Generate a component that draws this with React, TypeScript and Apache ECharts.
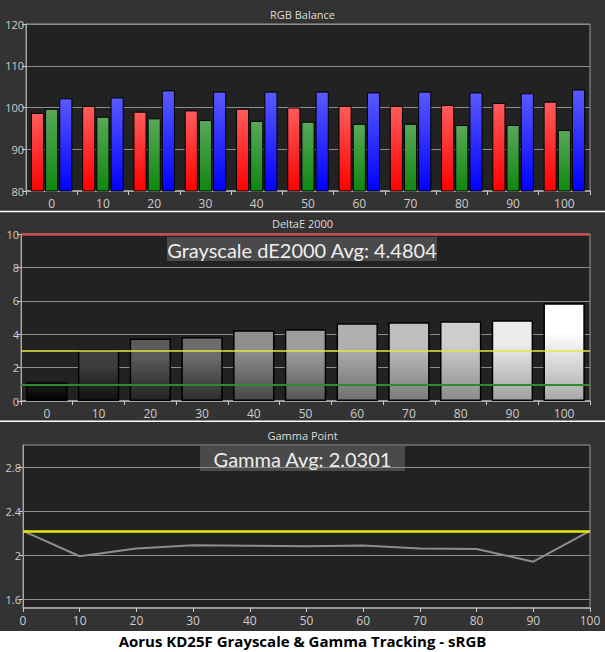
import React, { useEffect, useRef } from "react";
import * as echarts from "echarts";

// ---------- data ----------
const categories = ["0", "10", "20", "30", "40", "50", "60", "70", "80", "90", "100"];
const redValues = [98.7, 100.4, 99.0, 99.3, 99.7, 100.0, 100.4, 100.4, 100.6, 101.1, 101.4];
const greenValues = [99.7, 97.8, 97.4, 97.0, 96.8, 96.6, 96.1, 96.1, 95.8, 95.8, 94.6];
const blueValues = [102.2, 102.4, 104.1, 103.8, 103.8, 103.8, 103.6, 103.8, 103.6, 103.4, 104.3];
const deltaEValues = [1.12, 3.07, 3.75, 3.83, 4.23, 4.29, 4.65, 4.71, 4.77, 4.83, 5.85];
const gammaValues = [2.22, 1.99, 2.06, 2.09, 2.085, 2.08, 2.088, 2.06, 2.055, 1.94, 2.22];
const gammaTarget = 2.22;
const deltaELimitRed = 10;
const deltaELimitYellow = 3;
const deltaELimitGreen = 1;
const gammaTicks = [1.6, 2, 2.4, 2.8];
const deltaEAvgText = "Grayscale dE2000 Avg: 4.4804";
const gammaAvgText = "Gamma Avg: 2.0301";
const panelTitles = ["RGB Balance", "DeltaE 2000", "Gamma Point"];
const mainTitle = "Aorus KD25F Grayscale & Gamma Tracking - sRGB";

// ---------- styles ----------
const grayShades: [string, string][] = [
  ["#161616", "#000000"],
  ["#3e3e3e", "#111111"],
  ["#5a5a5a", "#222222"],
  ["#6c6c6c", "#2c2c2c"],
  ["#8e8e8e", "#464646"],
  ["#9e9e9e", "#565656"],
  ["#b0b0b0", "#707070"],
  ["#bebebe", "#7c7c7c"],
  ["#cdcdcd", "#8a8a8a"],
  ["#ebebeb", "#a0a0a0"],
  ["#ffffff", "#a8a8a8"],
];

const FONT = "Open Sans";
const BOX_FONT = "Lato";

function vgrad(stops: [number, string][]) {
  return {
    type: "linear",
    x: 0,
    y: 0,
    x2: 0,
    y2: 1,
    colorStops: stops.map(([offset, color]) => ({ offset, color })),
  };
}

const axisLabelStyle = { color: "#cccccc", fontFamily: FONT };

export default function App() {
  const ref = useRef<HTMLDivElement>(null);

  useEffect(() => {
    if (!ref.current) return;
    const chart = echarts.init(ref.current, undefined, { renderer: "svg" });

    const xCat = (gridIndex: number) => ({
      type: "category",
      gridIndex,
      data: categories,
      axisLine: { show: true, lineStyle: { color: "#aaaaaa", width: 1.5 } },
      axisTick: { show: true, length: 4, lineStyle: { color: "#cccccc" } },
      axisLabel: { ...axisLabelStyle, fontSize: 12, margin: 6 },
      splitLine: { show: false },
    });

    const panelTitleStyle = { color: "#dddddd", fontSize: 11, fontWeight: "normal", fontFamily: FONT };

    const option: any = {
      animation: false,
      backgroundColor: "#333333",
      textStyle: { fontFamily: FONT },
      title: [
        { text: panelTitles[0], left: "center", top: 9, textStyle: panelTitleStyle, padding: 0 },
        { text: panelTitles[1], left: "center", top: 218, textStyle: panelTitleStyle, padding: 0 },
        { text: panelTitles[2], left: "center", top: 430, textStyle: panelTitleStyle, padding: 0 },
        {
          text: mainTitle,
          left: "center",
          top: 633,
          textStyle: { color: "#000000", fontSize: 15, fontWeight: "bold", fontFamily: FONT },
          padding: 0,
        },
      ],
      grid: [
        { left: 26, right: 15, top: 24, height: 167, show: true, backgroundColor: "#222222", borderColor: "#999999", borderWidth: 1 },
        { left: 21, right: 15, top: 234, height: 167, show: true, backgroundColor: "#222222", borderColor: "#999999", borderWidth: 1 },
        { left: 23, right: 15, top: 445, height: 163, show: true, backgroundColor: "#222222", borderColor: "#999999", borderWidth: 1 },
      ],
      xAxis: [xCat(0), xCat(1), { ...xCat(2), boundaryGap: false }],
      yAxis: [
        {
          type: "value",
          gridIndex: 0,
          min: 80,
          max: 120,
          interval: 10,
          axisLine: { show: true, lineStyle: { color: "#aaaaaa" } },
          axisTick: { show: true, length: 4, lineStyle: { color: "#cccccc" } },
          axisLabel: { ...axisLabelStyle, fontSize: 11, margin: 2 },
          splitLine: { show: true, lineStyle: { color: "#8c8c8c", width: 1 } },
        },
        {
          type: "value",
          gridIndex: 1,
          min: 0,
          max: 10,
          interval: 2,
          axisLine: { show: true, lineStyle: { color: "#aaaaaa" } },
          axisTick: { show: true, length: 4, lineStyle: { color: "#cccccc" } },
          axisLabel: { ...axisLabelStyle, fontSize: 11, margin: 2 },
          splitLine: { show: true, lineStyle: { color: "#8c8c8c", width: 1 } },
        },
        {
          type: "value",
          gridIndex: 2,
          min: 1.52,
          max: 3.0,
          axisLine: { show: true, lineStyle: { color: "#aaaaaa" } },
          axisTick: { show: true, length: 4, customValues: gammaTicks, lineStyle: { color: "#cccccc" } },
          axisLabel: { ...axisLabelStyle, fontSize: 11, margin: 2, customValues: gammaTicks },
          splitLine: { show: false },
        },
      ],
      series: [
        {
          type: "bar",
          xAxisIndex: 0,
          yAxisIndex: 0,
          data: redValues,
          barGap: "8%",
          barCategoryGap: "19%",
          itemStyle: { color: vgrad([[0, "#ff5c5c"], [1, "#ff0000"]]), borderColor: "#000000", borderWidth: 1 },
        },
        {
          type: "bar",
          xAxisIndex: 0,
          yAxisIndex: 0,
          data: greenValues,
          barGap: "8%",
          barCategoryGap: "19%",
          itemStyle: { color: vgrad([[0, "#5aa85a"], [1, "#0f870f"]]), borderColor: "#000000", borderWidth: 1 },
        },
        {
          type: "bar",
          xAxisIndex: 0,
          yAxisIndex: 0,
          data: blueValues,
          barGap: "8%",
          barCategoryGap: "19%",
          itemStyle: { color: vgrad([[0, "#5a5aff"], [1, "#0000ff"]]), borderColor: "#000000", borderWidth: 1 },
        },
        {
          type: "bar",
          xAxisIndex: 1,
          yAxisIndex: 1,
          barCategoryGap: "20%",
          data: deltaEValues.map((v, i) => ({
            value: v,
            itemStyle: {
              color: vgrad([
                [0, grayShades[i][0]],
                [0.3, grayShades[i][0]],
                [1, grayShades[i][1]],
              ]),
              borderColor: "#000000",
              borderWidth: 1.5,
            },
          })),
          markLine: {
            silent: true,
            symbol: "none",
            label: { show: false },
            data: [
              { yAxis: deltaELimitRed, lineStyle: { color: "#c85050", width: 2.5, type: "solid" } },
              { yAxis: deltaELimitYellow, lineStyle: { color: "#e6e63c", width: 1.5, type: "solid" } },
              { yAxis: deltaELimitGreen, lineStyle: { color: "#2e8a2e", width: 2, type: "solid" } },
            ],
          },
        },
        {
          type: "line",
          xAxisIndex: 2,
          yAxisIndex: 2,
          data: [],
          z: 1,
          markLine: {
            z: 1,
            silent: true,
            symbol: "none",
            label: { show: false },
            lineStyle: { color: "#8c8c8c", width: 1, type: "solid" },
            data: gammaTicks.map((t) => ({ yAxis: t })),
          },
        },
        {
          type: "line",
          xAxisIndex: 2,
          yAxisIndex: 2,
          z: 3,
          data: gammaValues,
          showSymbol: false,
          symbol: "none",
          lineStyle: { color: "#8e8e8e", width: 2 },
          markLine: {
            z: 6,
            silent: true,
            symbol: "none",
            label: { show: false },
            lineStyle: { color: "#e8e800", width: 2.5, type: "solid" },
            data: [{ yAxis: gammaTarget }],
          },
        },
      ],
      graphic: [
        { type: "rect", shape: { x: 0, y: 210.8, width: 605, height: 1.4 }, style: { fill: "#ffffff" }, silent: true },
        { type: "rect", shape: { x: 0, y: 420.6, width: 605, height: 1.4 }, style: { fill: "#ffffff" }, silent: true },
        { type: "rect", shape: { x: 0, y: 631, width: 605, height: 21 }, style: { fill: "#ffffff" }, silent: true, z: -1 },
        {
          type: "group",
          x: 167,
          y: 237,
          z: 10,
          children: [
            { type: "rect", shape: { x: 0, y: 0, width: 270, height: 24 }, style: { fill: "#4a4a4a" } },
            {
              type: "text",
              x: 135,
              y: 12.5,
              style: {
                text: deltaEAvgText,
                fill: "#eeeeee",
                font: `20px "${BOX_FONT}"`,
                textAlign: "center",
                textVerticalAlign: "middle",
              },
            },
          ],
        },
        {
          type: "group",
          x: 200,
          y: 446,
          z: 10,
          children: [
            { type: "rect", shape: { x: 0, y: 0, width: 205, height: 25 }, style: { fill: "#4a4a4a" } },
            {
              type: "text",
              x: 102.5,
              y: 13,
              style: {
                text: gammaAvgText,
                fill: "#eeeeee",
                font: `20px "${BOX_FONT}"`,
                textAlign: "center",
                textVerticalAlign: "middle",
              },
            },
          ],
        },
      ],
    };

    chart.setOption(option);
    return () => chart.dispose();
  }, []);

  return <div ref={ref} style={{ position: "absolute", left: 0, top: 0, width: 605, height: 652 }} />;
}
